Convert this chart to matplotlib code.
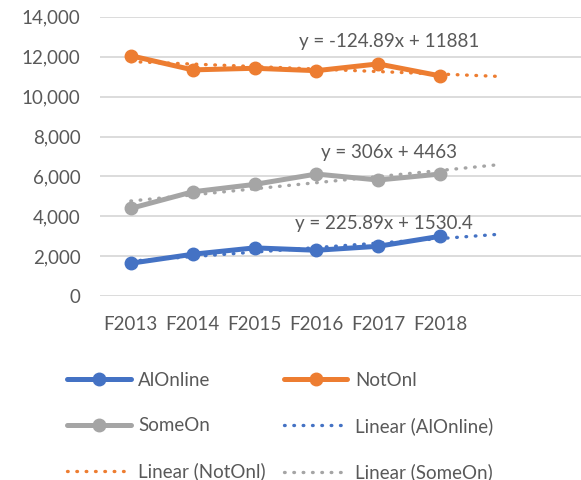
import numpy as np
import matplotlib.pyplot as plt

plt.rcParams['font.family'] = ['Lato', 'DejaVu Sans']

years = ["F2013", "F2014", "F2015", "F2016", "F2017", "F2018"]
al_online = [1650, 2100, 2420, 2300, 2500, 3000]
not_onl = [12050, 11340, 11420, 11300, 11640, 11040]
some_on = [4400, 5230, 5600, 6120, 5820, 6120]

# trendline coefficients (slope, intercept) as shown on the chart
trend_al = (225.89, 1530.4)
trend_not = (-124.89, 11881)
trend_some = (306, 4463)

blue = "#4472C4"
orange = "#ED7D31"
gray = "#A5A5A5"
text_col = "#595959"

fig = plt.figure(figsize=(5.81, 4.8), dpi=100)
ax = fig.add_axes([0.172, 0.383, 0.828, 0.582])

x = np.arange(1, len(years) + 1)
xt = np.array([1, len(years) + 1])

dot = dict(lw=2.4, linestyle=(0, (0.2, 2.6)), dash_capstyle="round")

def trend(c):
    return c[0] * xt + c[1]

l_tal, = ax.plot(xt, trend(trend_al), color=blue, **dot)
l_tnot, = ax.plot(xt, trend(trend_not), color=orange, **dot)
l_tsome, = ax.plot(xt, trend(trend_some), color=gray, **dot)

mk = dict(lw=3.6, marker="o", markersize=9, solid_capstyle="round")
l_al, = ax.plot(x, al_online, color=blue, **mk)
l_not, = ax.plot(x, not_onl, color=orange, **mk)
l_some, = ax.plot(x, some_on, color=gray, **mk)

ax.text(5.17, 12745, "y = -124.89x + 11881", ha="center", va="center",
        fontsize=13.5, color=text_col)
ax.text(5.17, 7175, "y = 306x + 4463", ha="center", va="center",
        fontsize=13.5, color=text_col)
ax.text(5.09, 3663, "y = 225.89x + 1530.4", ha="center", va="center",
        fontsize=13.5, color=text_col)

ax.set_xlim(0.5, 8.28)
ax.set_ylim(0, 14000)
ax.set_yticks(np.arange(0, 14001, 2000))
ax.set_yticklabels([f"{v:,}" for v in range(0, 14001, 2000)])
ax.set_xticks(x)
ax.set_xticklabels(years)
ax.grid(axis="y", color="#D9D9D9", lw=1.3)
ax.set_axisbelow(True)
for s in ax.spines.values():
    s.set_visible(False)
ax.tick_params(length=0, labelsize=13.5, colors=text_col, pad=14)

handles = [l_al, l_some, l_tnot, l_not, l_tal, l_tsome]
labels = ["AlOnline", "SomeOn", "Linear (NotOnl)",
          "NotOnl", "Linear (AlOnline)", "Linear (SomeOn)"]
leg = fig.legend(handles, labels, ncol=2, loc="upper left",
                 bbox_to_anchor=(67 / 581, 1 - 372 / 480), frameon=False,
                 fontsize=13.5, handlelength=3.4, handletextpad=0.4,
                 columnspacing=0.95, labelspacing=1.5, borderpad=0,
                 borderaxespad=0)
for t in leg.get_texts():
    t.set_color(text_col)

fig.savefig("out.png", dpi=100)
